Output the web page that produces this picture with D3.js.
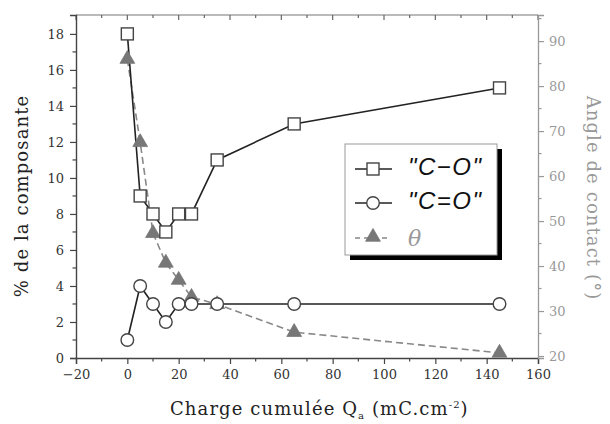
<!DOCTYPE html>
<html><head><meta charset="utf-8">
<script src="https://cdn.jsdelivr.net/npm/d3@7"></script>
<style>
html,body{margin:0;padding:0;background:#fff;}
svg{display:block;}
</style></head>
<body>
<svg id="chart" width="610" height="424"></svg>
<script>
// Data
const charge = [0, 5, 10, 15, 20, 25, 35, 65, 145];
const seriesCO = [18, 9, 8, 7, 8, 8, 11, 13, 15];      // "C−O" (%)
const seriesCdO = [1, 4, 3, 2, 3, 3, 3, 3, 3];          // "C=O" (%)
const seriesTheta = [86, 67.5, 47.3, 40.7, 36.9, 33.1, 31.5, 25.3, 20.7]; // contact angle (°)
const xTicks = [-20, 0, 20, 40, 60, 80, 100, 120, 140, 160];
const yLeftTicks = [0, 2, 4, 6, 8, 10, 12, 14, 16, 18];
const yRightTicks = [20, 30, 40, 50, 60, 70, 80, 90];
const legendLabels = ['"C\u2212O"', '"C=O"', '\u03b8'];

const L = 76, R = 538, T = 15, B = 358;
const svg = d3.select("#chart");
const x = d3.scaleLinear().domain([-20, 160]).range([L, R]);
const yL = d3.scaleLinear().domain([0, 19.05]).range([B, T]);
const yR = d3.scaleLinear().domain([19.56, 95.8]).range([B, T]);

const serif = "'DejaVu Serif', serif";
const dark = "#444", grey = "#999";

// Top frame line
svg.append("line").attr("x1", L).attr("x2", R).attr("y1", T).attr("y2", T).attr("stroke", "#777").attr("stroke-width", 1.2);

// Bottom axis
const gx = svg.append("g").attr("transform", `translate(0,${B})`)
  .call(d3.axisBottom(x).tickValues(xTicks).tickSize(6).tickPadding(6).tickFormat(d => d < 0 ? "\u221220" : d));
gx.select(".domain").attr("stroke", dark).attr("stroke-width", 1.4);
gx.selectAll(".tick line").attr("stroke", dark).attr("stroke-width", 1.2);
gx.selectAll("text").attr("font-family", serif).attr("font-size", 13).attr("fill", "#333");
svg.append("g").selectAll("line").data(d3.range(-10, 160, 20)).join("line")
  .attr("x1", d => x(d)).attr("x2", d => x(d)).attr("y1", B).attr("y2", B + 3.5)
  .attr("stroke", dark).attr("stroke-width", 1.2);

// Top ticks (inward)
svg.append("g").selectAll("line").data(d3.range(-20, 161, 10)).join("line")
  .attr("x1", d => x(d)).attr("x2", d => x(d)).attr("y1", T).attr("y2", d => T + (d % 20 === 0 ? 5 : 3))
  .attr("stroke", "#666").attr("stroke-width", 1.2);

// Left axis
const gy = svg.append("g").attr("transform", `translate(${L},0)`)
  .call(d3.axisLeft(yL).tickValues(yLeftTicks).tickSize(6).tickPadding(6));
gy.select(".domain").attr("stroke", dark).attr("stroke-width", 1.4);
gy.selectAll(".tick line").attr("stroke", dark).attr("stroke-width", 1.2);
gy.selectAll("text").attr("font-family", serif).attr("font-size", 13).attr("fill", "#333");
svg.append("g").selectAll("line").data(d3.range(1, 19, 2)).join("line")
  .attr("x1", L - 3.5).attr("x2", L).attr("y1", d => yL(d)).attr("y2", d => yL(d))
  .attr("stroke", dark).attr("stroke-width", 1.2);

// Right axis
const gr = svg.append("g").attr("transform", `translate(${R},0)`)
  .call(d3.axisRight(yR).tickValues(yRightTicks).tickSize(6).tickPadding(5));
gr.select(".domain").attr("stroke", grey).attr("stroke-width", 1.3);
gr.selectAll(".tick line").attr("stroke", grey).attr("stroke-width", 1.2);
gr.selectAll("text").attr("font-family", serif).attr("font-size", 13).attr("fill", grey);
svg.append("g").selectAll("line").data(d3.range(25, 96, 10)).join("line")
  .attr("x1", R).attr("x2", R + 3.5).attr("y1", d => yR(d)).attr("y2", d => yR(d))
  .attr("stroke", grey).attr("stroke-width", 1.2);

// Axis titles
svg.append("text").attr("transform", `translate(28,196) rotate(-90)`).attr("text-anchor", "middle")
  .attr("font-family", serif).attr("font-size", 18).attr("letter-spacing", 1.1).attr("fill", "#222").text("% de la composante");
svg.append("text").attr("transform", `translate(587,198) rotate(90)`).attr("text-anchor", "middle")
  .attr("font-family", serif).attr("font-size", 18).attr("letter-spacing", 1.1).attr("fill", grey).text("Angle de contact (°)");
const xt = svg.append("text").attr("x", 170).attr("y", 415).attr("font-family", serif).attr("font-size", 18).attr("letter-spacing", 1.1).attr("fill", "#222");
xt.append("tspan").text("Charge cumulée Q");
xt.append("tspan").attr("font-size", 10).attr("dy", 4).text("a");
xt.append("tspan").attr("dy", -4).text(" (mC.cm");
xt.append("tspan").attr("font-size", 10).attr("dy", -7).text("-2");
xt.append("tspan").attr("dy", 7).text(")");

// Lines
const lineL = d3.line().x((d, i) => x(charge[i])).y(d => yL(d));
const lineR = d3.line().x((d, i) => x(charge[i])).y(d => yR(d));
svg.append("path").attr("d", lineR(seriesTheta)).attr("fill", "none").attr("stroke", "#888").attr("stroke-width", 1.6).attr("stroke-dasharray", "7,4");
svg.append("path").attr("d", lineL(seriesCO)).attr("fill", "none").attr("stroke", "#222").attr("stroke-width", 1.6);
svg.append("path").attr("d", lineL(seriesCdO)).attr("fill", "none").attr("stroke", "#222").attr("stroke-width", 1.6);

const tri = d3.symbol().type(d3.symbolTriangle).size(95);
const sq = 12;
// Markers
svg.append("g").selectAll("path").data(seriesTheta).join("path")
  .attr("d", tri).attr("transform", (d, i) => `translate(${x(charge[i])},${yR(d)})`)
  .attr("fill", "#777").attr("stroke", "#777").attr("stroke-width", 0.8);
svg.append("g").selectAll("rect").data(seriesCO).join("rect")
  .attr("x", (d, i) => x(charge[i]) - sq / 2).attr("y", d => yL(d) - sq / 2)
  .attr("width", sq).attr("height", sq).attr("fill", "#fff").attr("stroke", "#444").attr("stroke-width", 1.4);
svg.append("g").selectAll("circle").data(seriesCdO).join("circle")
  .attr("cx", (d, i) => x(charge[i])).attr("cy", d => yL(d)).attr("r", 6.3)
  .attr("fill", "#fff").attr("stroke", "#444").attr("stroke-width", 1.4);

// Legend
const lg = svg.append("g");
lg.append("rect").attr("x", 350).attr("y", 149).attr("width", 152).attr("height", 111).attr("fill", "#000");
lg.append("rect").attr("x", 345).attr("y", 144).attr("width", 152).attr("height", 111).attr("fill", "#fff").attr("stroke", "#999").attr("stroke-width", 1);
const ly = [169, 203, 238];
lg.append("line").attr("x1", 355).attr("x2", 392).attr("y1", ly[0]).attr("y2", ly[0]).attr("stroke", "#222").attr("stroke-width", 1.6);
lg.append("rect").attr("x", 373 - 6).attr("y", ly[0] - 6).attr("width", 12).attr("height", 12).attr("fill", "#fff").attr("stroke", "#444").attr("stroke-width", 1.4);
lg.append("line").attr("x1", 355).attr("x2", 392).attr("y1", ly[1]).attr("y2", ly[1]).attr("stroke", "#222").attr("stroke-width", 1.6);
lg.append("circle").attr("cx", 373).attr("cy", ly[1]).attr("r", 6.3).attr("fill", "#fff").attr("stroke", "#444").attr("stroke-width", 1.4);
lg.append("line").attr("x1", 355).attr("x2", 388).attr("y1", ly[2]).attr("y2", ly[2]).attr("stroke", "#888").attr("stroke-width", 1.6).attr("stroke-dasharray", "5,4");
lg.append("path").attr("d", tri).attr("transform", `translate(373,${ly[2] - 1})`).attr("fill", "#777").attr("stroke", "#777").attr("stroke-width", 0.8);
lg.selectAll("text.lab").data(legendLabels).join("text").attr("class", "lab")
  .attr("x", 408).attr("y", (d, i) => ly[i] + 6 + (i === 2 ? 2 : 0))
  .attr("font-family", (d, i) => i === 2 ? serif : "'Liberation Sans', Arial, sans-serif")
  .attr("font-style", "italic").attr("font-size", (d, i) => i === 2 ? 22 : 24)
  .attr("letter-spacing", (d, i) => i === 2 ? 0 : 1.5)
  .attr("fill", (d, i) => i === 2 ? "#999" : "#111").text(d => d);
</script>
</body></html>
